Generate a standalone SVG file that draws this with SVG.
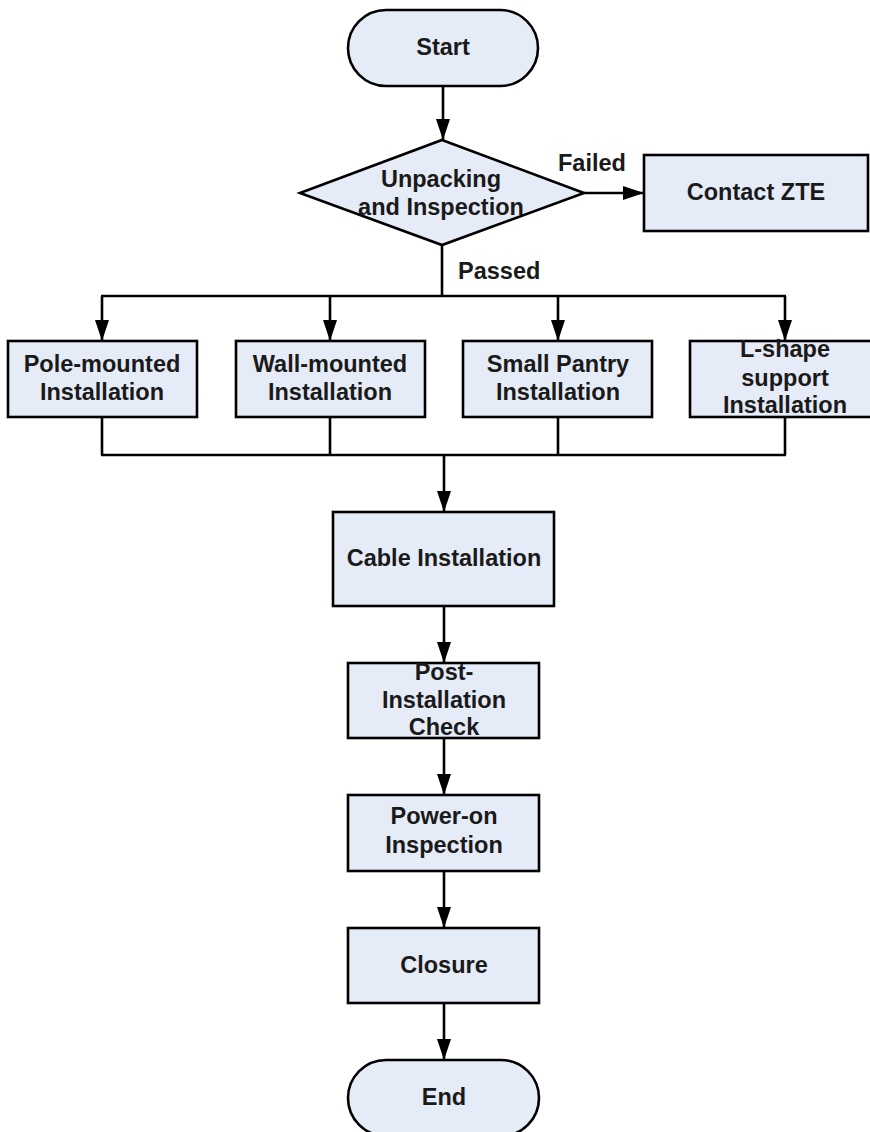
<svg xmlns="http://www.w3.org/2000/svg" width="870" height="1132" viewBox="0 0 870 1132">
<style>
.n{fill:#e6ecf7;stroke:#000;stroke-width:2.6}
.t{font-family:"Liberation Sans",Arial,sans-serif;font-weight:bold;font-size:23.5px;fill:#1a1a1a;text-anchor:middle}
.l{font-family:"Liberation Sans",Arial,sans-serif;font-weight:bold;font-size:23.5px;fill:#1a1a1a}
.c{fill:none;stroke:#000;stroke-width:2.6}
</style>
<defs>
<marker id="ah" markerUnits="userSpaceOnUse" markerWidth="22" markerHeight="16" viewBox="0 0 22 16" refX="21" refY="8" orient="auto">
<path d="M0,1 L21,8 L0,15 Z" fill="#000"/>
</marker>
</defs>
<rect width="870" height="1132" fill="#fff"/>
<g id="connectors">
<line class="c" x1="443" y1="86" x2="443" y2="140" marker-end="url(#ah)"/>
<line class="c" x1="584" y1="193" x2="644" y2="193" marker-end="url(#ah)"/>
<polyline class="c" points="442,245 442,296"/>
<line class="c" x1="101" y1="296" x2="786" y2="296"/>
<line class="c" x1="102" y1="296" x2="102" y2="341" marker-end="url(#ah)"/>
<line class="c" x1="330" y1="296" x2="330" y2="341" marker-end="url(#ah)"/>
<line class="c" x1="558" y1="296" x2="558" y2="341" marker-end="url(#ah)"/>
<line class="c" x1="785" y1="296" x2="785" y2="341" marker-end="url(#ah)"/>
<line class="c" x1="102" y1="417" x2="102" y2="455"/>
<line class="c" x1="330" y1="417" x2="330" y2="455"/>
<line class="c" x1="558" y1="417" x2="558" y2="455"/>
<line class="c" x1="785" y1="417" x2="785" y2="455"/>
<line class="c" x1="101" y1="455" x2="786" y2="455"/>
<line class="c" x1="444" y1="455" x2="444" y2="512" marker-end="url(#ah)"/>
<line class="c" x1="444" y1="606" x2="444" y2="663" marker-end="url(#ah)"/>
<line class="c" x1="444" y1="738" x2="444" y2="795" marker-end="url(#ah)"/>
<line class="c" x1="444" y1="871" x2="444" y2="928" marker-end="url(#ah)"/>
<line class="c" x1="444" y1="1003" x2="444" y2="1060" marker-end="url(#ah)"/>
<text class="l" x="558" y="171">Failed</text>
<text class="l" x="458" y="279">Passed</text>
</g>
<g id="start">
<rect class="n" x="348" y="10" width="190" height="76" rx="38" ry="38"/>
<text class="t" x="443" y="55">Start</text>
</g>
<g id="unpacking">
<polygon class="n" points="442,140 584,193 442,245 300,193"/>
<text class="t" x="441" y="187">Unpacking</text>
<text class="t" x="441" y="215">and Inspection</text>
</g>
<g id="contact">
<rect class="n" x="644" y="155" width="224" height="76"/>
<text class="t" x="756" y="200">Contact ZTE</text>
</g>
<g id="pole">
<rect class="n" x="8" y="341" width="189" height="76"/>
<text class="t" x="102" y="372">Pole-mounted</text>
<text class="t" x="102" y="400">Installation</text>
</g>
<g id="wall">
<rect class="n" x="236" y="341" width="189" height="76"/>
<text class="t" x="330" y="372">Wall-mounted</text>
<text class="t" x="330" y="400">Installation</text>
</g>
<g id="pantry">
<rect class="n" x="463" y="341" width="189" height="76"/>
<text class="t" x="558" y="372">Small Pantry</text>
<text class="t" x="558" y="400">Installation</text>
</g>
<g id="lshape">
<rect class="n" x="690" y="341" width="190" height="76"/>
<text class="t" x="785" y="357">L-shape</text>
<text class="t" x="785" y="386">support</text>
<text class="t" x="785" y="413">Installation</text>
</g>
<g id="cable">
<rect class="n" x="333" y="512" width="221" height="94"/>
<text class="t" x="444" y="566">Cable Installation</text>
</g>
<g id="post">
<rect class="n" x="348" y="663" width="191" height="75"/>
<text class="t" x="444" y="680">Post-</text>
<text class="t" x="444" y="708">Installation</text>
<text class="t" x="444" y="735">Check</text>
</g>
<g id="poweron">
<rect class="n" x="348" y="795" width="191" height="76"/>
<text class="t" x="444" y="824">Power-on</text>
<text class="t" x="444" y="853">Inspection</text>
</g>
<g id="closure">
<rect class="n" x="348" y="928" width="191" height="75"/>
<text class="t" x="444" y="973">Closure</text>
</g>
<g id="end">
<rect class="n" x="348" y="1060" width="191" height="76" rx="38" ry="38"/>
<text class="t" x="444" y="1105">End</text>
</g>
</svg>
